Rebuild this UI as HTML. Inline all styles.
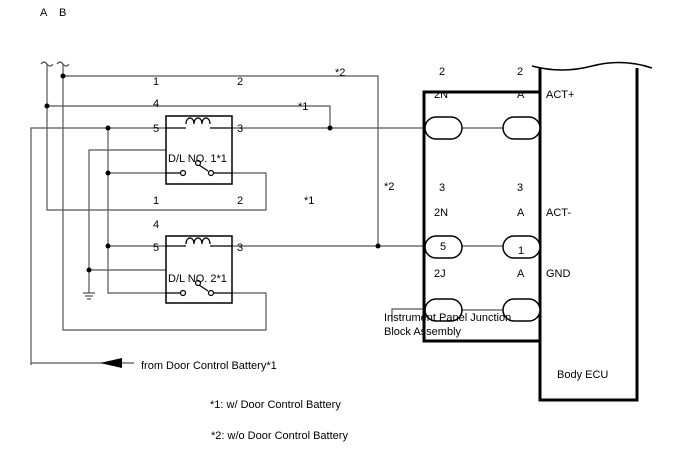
<!DOCTYPE html>
<html><head><style>
body{margin:0;background:#fff;}
svg{display:block;font-family:"Liberation Sans",sans-serif;font-size:11px;}
</style></head><body>
<svg width="688" height="463" viewBox="0 0 688 463" xmlns="http://www.w3.org/2000/svg">
<g fill="#000">
<text x="40" y="16">A</text><text x="59" y="16">B</text>
</g>
<g stroke="#555" stroke-width="1.2" fill="none">
<path d="M41 64 q3 -4 6 0 q3 4 6 0"/><path d="M57 64 q3 -4 6 0 q3 4 6 0"/>
<path d="M47 64 V210 H266 V173 H210"/>
<path d="M63 64 V330 H266 V293 H210"/>
<path d="M63 76 H378 V246"/>
<path d="M47 106 H330 V128"/>
<path d="M31 365 V128 H424"/>
<path d="M108 128 V293 H183"/>
<path d="M108 173 H183"/>
<path d="M108 246 H424"/>
<path d="M89 293 V150 H198 V163"/>
<path d="M89 270 H198 V283"/>
<path d="M31 363 H134"/>
<path d="M462 128 H503 M462 246 H503 M462 310 H503"/>
<path d="M392 322 V309 H425"/>
<path d="M83 293 H95 M85 296 H93 M87 299 H91"/>
</g>
<g stroke="#000" stroke-width="1.5" fill="#fff">
<rect x="166" y="116" width="66" height="68"/>
<rect x="166" y="236" width="66" height="67"/>
</g>
<g stroke="#000" stroke-width="1.2" fill="none">
<path d="M186 124 c0 -8 8 -8 8 0 c0 -8 8 -8 8 0 c0 -8 8 -8 8 0"/>
<path d="M186 244 c0 -8 8 -8 8 0 c0 -8 8 -8 8 0 c0 -8 8 -8 8 0"/>
<path d="M166 128 H186 M210 128 H232 M166 246 H186 M210 246 H232"/>
<path d="M166 173 H180 M214 173 H232 M166 293 H180 M214 293 H232"/>
<path d="M196 163 L208 171 M196 283 L208 291"/>
<circle cx="183" cy="173" r="2.5" fill="#fff"/><circle cx="211" cy="173" r="2.5" fill="#fff"/>
<circle cx="183" cy="293" r="2.5" fill="#fff"/><circle cx="211" cy="293" r="2.5" fill="#fff"/>
<circle cx="198" cy="163" r="2.5" fill="#fff"/><circle cx="198" cy="283" r="2.5" fill="#fff"/>
</g>
<g fill="#000">
<circle cx="63" cy="76" r="2.5"/><circle cx="47" cy="106" r="2.5"/><circle cx="108" cy="128" r="2.5"/>
<circle cx="330" cy="128" r="2.5"/><circle cx="108" cy="173" r="2.5"/><circle cx="108" cy="246" r="2.5"/>
<circle cx="89" cy="270" r="2.5"/><circle cx="378" cy="246" r="2.5"/>
<path d="M100 363 L122 358 V368 Z"/>
</g>
<g stroke="#000" stroke-width="3" fill="none">
<rect x="424" y="92" width="116" height="249"/>
<path d="M540 68 V400 H637 V68"/>
</g>
<path d="M532 66 q30 8 60 0 q30 -8 60 2" stroke="#000" stroke-width="1.5" fill="none"/>
<g stroke="#000" stroke-width="1.5" fill="#fff">
<rect x="425" y="117" width="37" height="22" rx="11"/><rect x="503" y="117" width="37" height="22" rx="11"/>
<rect x="425" y="236" width="37" height="22" rx="11"/><rect x="503" y="236" width="37" height="22" rx="11"/>
<rect x="425" y="299" width="37" height="22" rx="11"/><rect x="503" y="299" width="37" height="22" rx="11"/>
</g>
<g fill="#000">
<text x="153" y="85">1</text><text x="237" y="85">2</text><text x="335" y="76">*2</text>
<text x="153" y="107">4</text><text x="298" y="110">*1</text>
<text x="153" y="132">5</text><text x="237" y="132">3</text>
<text x="168" y="162">D/L NO. 1*1</text>
<text x="153" y="204">1</text><text x="237" y="204">2</text><text x="304" y="204">*1</text>
<text x="153" y="228">4</text>
<text x="153" y="251">5</text><text x="237" y="251">3</text>
<text x="168" y="282">D/L NO. 2*1</text>
<text x="384" y="190">*2</text>
<text x="439" y="75">2</text><text x="517" y="75">2</text>
<text x="434" y="98">2N</text><text x="517" y="98">A</text><text x="546" y="98">ACT+</text>
<text x="439" y="191">3</text><text x="517" y="191">3</text>
<text x="434" y="216">2N</text><text x="517" y="216">A</text><text x="546" y="216">ACT-</text>
<text x="440" y="250">5</text><text x="518" y="254">1</text>
<text x="434" y="277">2J</text><text x="517" y="277">A</text><text x="546" y="277">GND</text>
<text x="384" y="321">Instrument Panel Junction</text>
<text x="384" y="335">Block Assembly</text>
<text x="557" y="378">Body ECU</text>
<text x="141" y="369">from Door Control Battery*1</text>
<text x="210" y="408">*1: w/ Door Control Battery</text>
<text x="211" y="439">*2: w/o Door Control Battery</text>
</g>
</svg>
</body></html>
